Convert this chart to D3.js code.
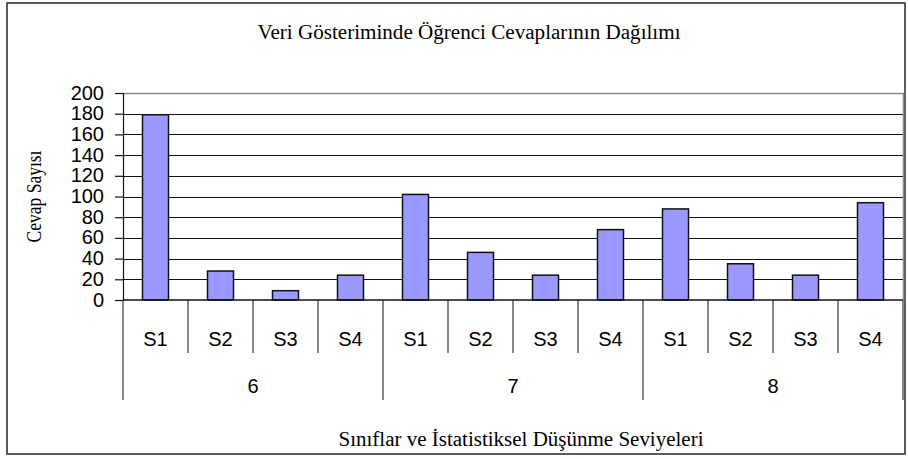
<!DOCTYPE html>
<html>
<head>
<meta charset="utf-8">
<script src="https://cdn.jsdelivr.net/npm/d3@7"></script>
<style>
  body { margin: 0; background: #fff; }
  svg { display: block; }
</style>
</head>
<body>
<div class="board"></div>
<script>
const W = 908, H = 459

// data
const grades = ["6", "7", "8"]
const levels = ["S1", "S2", "S3", "S4"]
const counts6 = [179, 28, 9, 24]
const counts7 = [102, 46, 24, 68]
const counts8 = [88, 35, 24, 94]
const yTicks = [0, 20, 40, 60, 80, 100, 120, 140, 160, 180, 200]

const title = "Veri Gösteriminde Öğrenci Cevaplarının  Dağılımı"
const yTitle = "Cevap Sayısı"
const xTitle = "Sınıflar ve İstatistiksel Düşünme Seviyeleri"

const BAR = "#9999FF"

let rows = []
;[counts6, counts7, counts8].forEach((arr, g) => {
    arr.forEach((v, i) => rows.push({ grade: grades[g], level: levels[i], value: v, key: g + "-" + i }))
})

const plot = { left: 123, right: 903, top: 93, bottom: 300 }

const svg = d3.select(".board").append("svg")
    .attr("width", W)
    .attr("height", H)

// outer frame
svg.append("rect")
    .attr("x", 7).attr("y", 3)
    .attr("width", 898).attr("height", 451)
    .attr("fill", "none")
    .attr("stroke", "#333")
    .attr("stroke-width", 1.6)

let x = d3.scaleBand()
    .domain(rows.map(d => d.key))
    .range([plot.left, plot.right])
    .paddingInner(0.6)
    .paddingOuter(0.3)

let xCat = d3.scaleBand()
    .domain(rows.map(d => d.key))
    .range([plot.left, plot.right])

let xGroup = d3.scaleBand()
    .domain(grades)
    .range([plot.left, plot.right])

let y = d3.scaleLinear()
    .domain([0, 200])
    .range([plot.bottom, plot.top])

// gridlines
svg.append("g")
    .selectAll("line")
    .data(yTicks.filter(d => d > 0 && d < 200))
    .enter()
    .append("line")
    .attr("x1", plot.left).attr("x2", plot.right)
    .attr("y1", d => Math.round(y(d)) + 0.5)
    .attr("y2", d => Math.round(y(d)) + 0.5)
    .attr("stroke", "#111")
    .attr("stroke-width", 1.2)

// plot border top/right (grey)
svg.append("path")
    .attr("d", `M${plot.left},${Math.round(y(200)) + 0.5}H${plot.right + 0.5}V${plot.bottom}`)
    .attr("fill", "none")
    .attr("stroke", "#8a8a8a")
    .attr("stroke-width", 1.5)

// bars
svg.append("g")
    .selectAll("rect")
    .data(rows)
    .enter()
    .append("rect")
    .attr("x", d => x(d.key))
    .attr("y", d => y(d.value))
    .attr("width", x.bandwidth())
    .attr("height", d => y(0) - y(d.value))
    .attr("fill", BAR)
    .attr("stroke", "#111")
    .attr("stroke-width", 1.5)

// y axis
let yAxis = svg.append("g")
    .attr("transform", `translate(${plot.left},0)`)
    .call(d3.axisLeft(y).tickValues(yTicks).tickSize(8).tickPadding(11))
yAxis.select(".domain").attr("stroke", "#111").attr("stroke-width", 1.2)
yAxis.selectAll(".tick line").attr("stroke", "#111").attr("stroke-width", 1.2)
yAxis.selectAll("text")
    .attr("font-family", "Liberation Sans, Arial, sans-serif")
    .attr("font-size", 20)
    .attr("fill", "#000")
    .attr("dy", "0.3em")

// x axis baseline
svg.append("line")
    .attr("x1", plot.left).attr("x2", plot.right)
    .attr("y1", y(0)).attr("y2", y(0))
    .attr("stroke", "#111")
    .attr("stroke-width", 1.5)

// category dividers (short) and group dividers (long)
let catEdges = rows.map(d => xCat(d.key)).filter((v, i) => i % 4 != 0)
svg.append("g")
    .selectAll("line")
    .data(catEdges)
    .enter()
    .append("line")
    .attr("x1", d => d).attr("x2", d => d)
    .attr("y1", plot.bottom).attr("y2", 353)
    .attr("stroke", "#111")
    .attr("stroke-width", 1)

let groupEdges = grades.map(g => xGroup(g)).concat([plot.right])
svg.append("g")
    .selectAll("line")
    .data(groupEdges)
    .enter()
    .append("line")
    .attr("x1", d => d).attr("x2", d => d)
    .attr("y1", plot.bottom).attr("y2", 400)
    .attr("stroke", "#111")
    .attr("stroke-width", 1)

// category labels
svg.append("g")
    .selectAll("text")
    .data(rows)
    .enter()
    .append("text")
    .text(d => d.level)
    .attr("x", d => xCat(d.key) + xCat.bandwidth() / 2)
    .attr("y", 346)
    .attr("text-anchor", "middle")
    .attr("font-family", "Liberation Sans, Arial, sans-serif")
    .attr("font-size", 20)

svg.append("g")
    .selectAll("text")
    .data(grades)
    .enter()
    .append("text")
    .text(d => d)
    .attr("x", d => xGroup(d) + xGroup.bandwidth() / 2)
    .attr("y", 393)
    .attr("text-anchor", "middle")
    .attr("font-family", "Liberation Sans, Arial, sans-serif")
    .attr("font-size", 20)

// titles
svg.append("text")
    .text(title)
    .attr("x", 469)
    .attr("y", 39)
    .attr("text-anchor", "middle")
    .attr("font-family", "Liberation Serif, Times New Roman, serif")
    .attr("font-size", 20)
    .attr("textLength", 423)
    .attr("lengthAdjust", "spacingAndGlyphs")

svg.append("text")
    .text(xTitle)
    .attr("x", 521)
    .attr("y", 446)
    .attr("text-anchor", "middle")
    .attr("font-family", "Liberation Serif, Times New Roman, serif")
    .attr("font-size", 20)
    .attr("textLength", 365)
    .attr("lengthAdjust", "spacingAndGlyphs")

svg.append("text")
    .text(yTitle)
    .attr("transform", `translate(41,${(plot.top + plot.bottom) / 2}) rotate(-90)`)
    .attr("text-anchor", "middle")
    .attr("font-family", "Liberation Serif, Times New Roman, serif")
    .attr("font-size", 20)
    .attr("textLength", 92)
    .attr("lengthAdjust", "spacingAndGlyphs")
</script>
</body>
</html>
